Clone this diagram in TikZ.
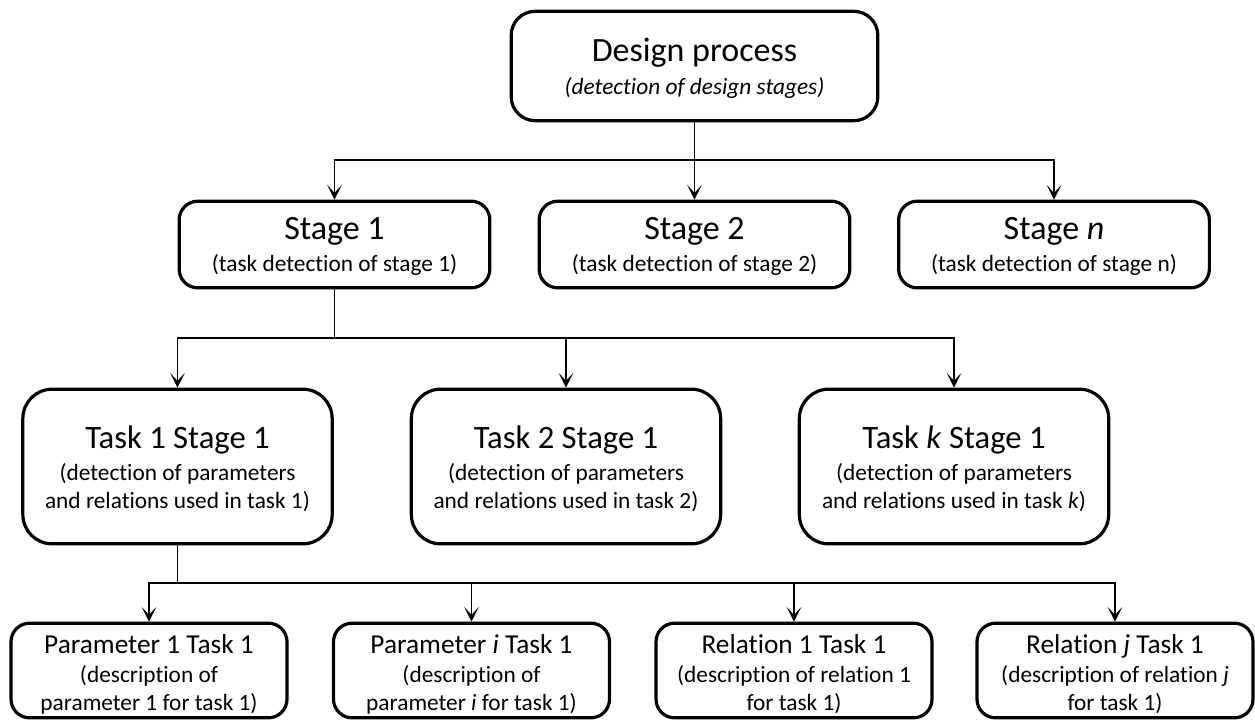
\documentclass[tikz,border=0pt]{standalone}
\usepackage{fontspec}
\setmainfont{Carlito}[Ligatures=NoCommon]
\usetikzlibrary{arrows.meta}
\begin{document}
\begin{tikzpicture}[x=0.75pt,y=-0.75pt,
  box/.style={draw, line width=2.4pt, fill=white, inner sep=0pt, rounded corners=#1},
  dbox/.style={box=18pt, minimum width=275pt, minimum height=82pt},
  sbox/.style={box=14pt, minimum width=233pt, minimum height=65pt},
  tbox/.style={box=22pt, minimum width=232pt, minimum height=116pt},
  bbox/.style={box=14pt, minimum width=207pt, minimum height=71pt},
  txt/.style={anchor=base, inner sep=0pt},
  bigtitle/.style={txt, font=\fontsize{25.5}{28}\selectfont},
  midtitle/.style={txt, font=\fontsize{24.5}{28}\selectfont},
  smalltitle/.style={txt, font=\fontsize{20.5}{24}\selectfont},
  note/.style={txt, font=\fontsize{17.5}{21}\selectfont},
  wire/.style={line width=1pt},
  link/.style={line width=1pt, -{Stealth[length=11pt, width=11pt, inset=6pt]}},
]
\useasboundingbox (0,0) rectangle (1255,722);

% ---- boxes ----
\node[dbox] (design) at (694.5,66) {};

\node[sbox] (stage1) at (334.5,244.5) {};
\node[sbox] (stage2) at (694.5,244.5) {};
\node[sbox] (stagen) at (1054,244.5) {};

\node[tbox] (task1) at (177.5,466.5) {};
\node[tbox] (task2) at (566,466.5) {};
\node[tbox] (taskk) at (954,466.5) {};

\node[bbox] (par1) at (149,670.5) {};
\node[bbox] (pari) at (471.5,670.5) {};
\node[bbox] (rel1) at (794,670.5) {};
\node[bbox] (relj) at (1115,670.5) {};

% ---- box texts (placed on their baselines) ----
\node[bigtitle] (design-a) at (694.5,61.7) {Design process};
\node[note] (design-b) at (694.5,94.3) {\itshape (detection of design stages)};

\node[bigtitle] (stage1-a) at (334.5,239.5) {Stage 1};
\node[note] (stage1-b) at (334.5,271.5) {(task detection of stage 1)};
\node[bigtitle] (stage2-a) at (694.5,239.5) {Stage 2};
\node[note] (stage2-b) at (694.5,271.5) {(task detection of stage 2)};
\node[bigtitle] (stagen-a) at (1054,239.5) {Stage \textit{n}};
\node[note] (stagen-b) at (1054,271.5) {(task detection of stage n)};

\node[midtitle] (task1-a) at (177.5,448.3) {Task 1 Stage 1};
\node[note] (task1-b) at (177.5,480) {(detection of parameters};
\node[note] (task1-c) at (177.5,508.3) {and relations used in task 1)};
\node[midtitle] (task2-a) at (566,448.3) {Task 2 Stage 1};
\node[note] (task2-b) at (566,480) {(detection of parameters};
\node[note] (task2-c) at (566,508.3) {and relations used in task 2)};
\node[midtitle] (taskk-a) at (954,448.3) {Task \textit{k} Stage 1};
\node[note] (taskk-b) at (954,480) {(detection of parameters};
\node[note] (taskk-c) at (954,508.3) {and relations used in task \textit{k})};

\node[smalltitle] (par1-a) at (149,653) {Parameter 1 Task 1};
\node[note] (par1-b) at (149,682) {(description of};
\node[note] (par1-c) at (149,710) {parameter 1 for task 1)};
\node[smalltitle] (pari-a) at (471.5,653) {Parameter \textit{i} Task 1};
\node[note] (pari-b) at (471.5,682) {(description of};
\node[note] (pari-c) at (471.5,710) {parameter \textit{i} for task 1)};
\node[smalltitle] (rel1-a) at (794,653) {Relation 1 Task 1};
\node[note] (rel1-b) at (794,682) {(description of relation 1};
\node[note] (rel1-c) at (794,710) {for task 1)};
\node[smalltitle] (relj-a) at (1115,653) {Relation \textit{j} Task 1};
\node[note] (relj-b) at (1115,682) {(description of relation \textit{j}};
\node[note] (relj-c) at (1115,710) {for task 1)};

% ---- branch points ----
\coordinate (b1) at (694.5,160);
\coordinate (b2) at (334.5,338);
\coordinate (b3) at (177.5,583);

% ---- connectors ----
\draw[wire] (design.south) -- (b1);
\draw[link] (b1) -- (stage2.north);
\draw[link] (b1) -| (stage1.north);
\draw[link] (b1) -| (stagen.north);

\draw[wire] (stage1.south) -- (b2);
\draw[link] (b2) -| (task1.north);
\draw[link] (b2) -| (task2.north);
\draw[link] (b2) -| (taskk.north);

\draw[wire] (task1.south) -- (b3);
\draw[link] (b3) -| (par1.north);
\draw[link] (b3) -| (pari.north);
\draw[link] (b3) -| (rel1.north);
\draw[link] (b3) -| (relj.north);
\end{tikzpicture}
\end{document}
